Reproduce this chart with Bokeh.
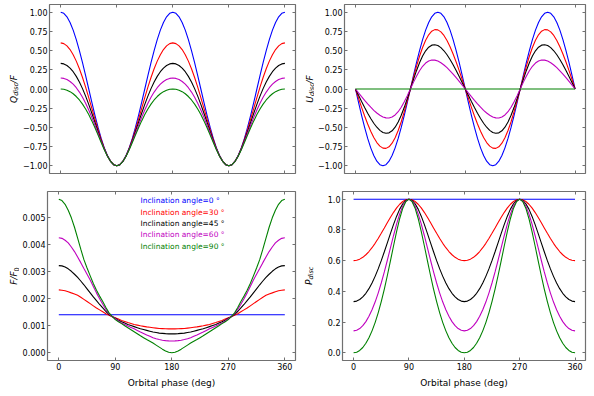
import math
from bokeh.plotting import figure
from bokeh.models import (ColumnDataSource, LinearAxis, FixedTicker,
                          CustomJSTickFormatter, Label, Range1d)
from bokeh.layouts import column, row
from bokeh.embed import file_html
from bokeh.resources import INLINE

# ---------------- data ----------------
phase = [0, 5, 10, 15, 20, 25, 30, 35, 40, 45, 50, 55, 60, 65, 70, 75, 80, 85, 90,
         95, 100, 105, 110, 115, 120, 125, 130, 135, 140, 145, 150, 155, 160, 165, 170, 175, 180,
         185, 190, 195, 200, 205, 210, 215, 220, 225, 230, 235, 240, 245, 250, 255, 260, 265, 270,
         275, 280, 285, 290, 295, 300, 305, 310, 315, 320, 325, 330, 335, 340, 345, 350, 355, 360]

inclinations = ["0", "30", "45", "60", "90"]

q_i0 = [1.0, 0.9848, 0.9397, 0.866, 0.766, 0.6428, 0.5, 0.342, 0.1736, 0.0, -0.1736, -0.342, -0.5, -0.6428, -0.766, -0.866, -0.9397, -0.9848, -1.0,
        -0.9848, -0.9397, -0.866, -0.766, -0.6428, -0.5, -0.342, -0.1736, 0.0, 0.1736, 0.342, 0.5, 0.6428, 0.766, 0.866, 0.9397, 0.9848, 1.0,
        0.9848, 0.9397, 0.866, 0.766, 0.6428, 0.5, 0.342, 0.1736, 0.0, -0.1736, -0.342, -0.5, -0.6428, -0.766, -0.866, -0.9397, -0.9848, -1.0,
        -0.9848, -0.9397, -0.866, -0.766, -0.6428, -0.5, -0.342, -0.1736, 0.0, 0.1736, 0.342, 0.5, 0.6428, 0.766, 0.866, 0.9397, 0.9848, 1.0]
q_i30 = [0.6, 0.5903, 0.5612, 0.5131, 0.4467, 0.3629, 0.2632, 0.1492, 0.0235, -0.1111, -0.251, -0.392, -0.5294, -0.658, -0.7727, -0.8682, -0.9402, -0.9848, -1.0,
         -0.9848, -0.9402, -0.8682, -0.7727, -0.658, -0.5294, -0.392, -0.251, -0.1111, 0.0235, 0.1492, 0.2632, 0.3629, 0.4467, 0.5131, 0.5612, 0.5903, 0.6,
         0.5903, 0.5612, 0.5131, 0.4467, 0.3629, 0.2632, 0.1492, 0.0235, -0.1111, -0.251, -0.392, -0.5294, -0.658, -0.7727, -0.8682, -0.9402, -0.9848, -1.0,
         -0.9848, -0.9402, -0.8682, -0.7727, -0.658, -0.5294, -0.392, -0.251, -0.1111, 0.0235, 0.1492, 0.2632, 0.3629, 0.4467, 0.5131, 0.5612, 0.5903, 0.6]
q_i45 = [0.3333, 0.3266, 0.3063, 0.2724, 0.2251, 0.1645, 0.0909, 0.0049, -0.0926, -0.2, -0.3151, -0.435, -0.5556, -0.6721, -0.779, -0.8704, -0.9406, -0.9849, -1.0,
         -0.9849, -0.9406, -0.8704, -0.779, -0.6721, -0.5556, -0.435, -0.3151, -0.2, -0.0926, 0.0049, 0.0909, 0.1645, 0.2251, 0.2724, 0.3063, 0.3266, 0.3333,
         0.3266, 0.3063, 0.2724, 0.2251, 0.1645, 0.0909, 0.0049, -0.0926, -0.2, -0.3151, -0.435, -0.5556, -0.6721, -0.779, -0.8704, -0.9406, -0.9849, -1.0,
         -0.9849, -0.9406, -0.8704, -0.779, -0.6721, -0.5556, -0.435, -0.3151, -0.2, -0.0926, 0.0049, 0.0909, 0.1645, 0.2251, 0.2724, 0.3063, 0.3266, 0.3333]
q_i60 = [0.1429, 0.1379, 0.1229, 0.0978, 0.0624, 0.0165, -0.04, -0.1073, -0.185, -0.2727, -0.3691, -0.4722, -0.5789, -0.685, -0.7849, -0.8724, -0.941, -0.9849, -1.0,
         -0.9849, -0.941, -0.8724, -0.7849, -0.685, -0.5789, -0.4722, -0.3691, -0.2727, -0.185, -0.1073, -0.04, 0.0165, 0.0624, 0.0978, 0.1229, 0.1379, 0.1429,
         0.1379, 0.1229, 0.0978, 0.0624, 0.0165, -0.04, -0.1073, -0.185, -0.2727, -0.3691, -0.4722, -0.5789, -0.685, -0.7849, -0.8724, -0.941, -0.9849, -1.0,
         -0.9849, -0.941, -0.8724, -0.7849, -0.685, -0.5789, -0.4722, -0.3691, -0.2727, -0.185, -0.1073, -0.04, 0.0165, 0.0624, 0.0978, 0.1229, 0.1379, 0.1429]
q_i90 = [0.0, -0.0038, -0.0153, -0.0347, -0.0621, -0.0981, -0.1429, -0.1969, -0.2604, -0.3333, -0.4152, -0.5049, -0.6, -0.6969, -0.7905, -0.8744, -0.9415, -0.9849, -1.0,
         -0.9849, -0.9415, -0.8744, -0.7905, -0.6969, -0.6, -0.5049, -0.4152, -0.3333, -0.2604, -0.1969, -0.1429, -0.0981, -0.0621, -0.0347, -0.0153, -0.0038, 0.0,
         -0.0038, -0.0153, -0.0347, -0.0621, -0.0981, -0.1429, -0.1969, -0.2604, -0.3333, -0.4152, -0.5049, -0.6, -0.6969, -0.7905, -0.8744, -0.9415, -0.9849, -1.0,
         -0.9849, -0.9415, -0.8744, -0.7905, -0.6969, -0.6, -0.5049, -0.4152, -0.3333, -0.2604, -0.1969, -0.1429, -0.0981, -0.0621, -0.0347, -0.0153, -0.0038, 0.0]

u_i0 = [0.0, -0.1736, -0.342, -0.5, -0.6428, -0.766, -0.866, -0.9397, -0.9848, -1.0, -0.9848, -0.9397, -0.866, -0.766, -0.6428, -0.5, -0.342, -0.1736, 0.0,
        0.1736, 0.342, 0.5, 0.6428, 0.766, 0.866, 0.9397, 0.9848, 1.0, 0.9848, 0.9397, 0.866, 0.766, 0.6428, 0.5, 0.342, 0.1736, 0.0,
        -0.1736, -0.342, -0.5, -0.6428, -0.766, -0.866, -0.9397, -0.9848, -1.0, -0.9848, -0.9397, -0.866, -0.766, -0.6428, -0.5, -0.342, -0.1736, 0.0,
        0.1736, 0.342, 0.5, 0.6428, 0.766, 0.866, 0.9397, 0.9848, 1.0, 0.9848, 0.9397, 0.866, 0.766, 0.6428, 0.5, 0.342, 0.1736, 0.0]
u_i30 = [0.0, -0.1205, -0.2384, -0.3511, -0.456, -0.5504, -0.6316, -0.6969, -0.7438, -0.7698, -0.773, -0.752, -0.7059, -0.6351, -0.5409, -0.4259, -0.294, -0.1501, 0.0,
         0.1501, 0.294, 0.4259, 0.5409, 0.6351, 0.7059, 0.752, 0.773, 0.7698, 0.7438, 0.6969, 0.6316, 0.5504, 0.456, 0.3511, 0.2384, 0.1205, 0.0,
         -0.1205, -0.2384, -0.3511, -0.456, -0.5504, -0.6316, -0.6969, -0.7438, -0.7698, -0.773, -0.752, -0.7059, -0.6351, -0.5409, -0.4259, -0.294, -0.1501, 0.0,
         0.1501, 0.294, 0.4259, 0.5409, 0.6351, 0.7059, 0.752, 0.773, 0.7698, 0.7438, 0.6969, 0.6316, 0.5504, 0.456, 0.3511, 0.2384, 0.1205, 0.0]
u_i45 = [0.0, -0.0821, -0.1629, -0.2411, -0.3153, -0.384, -0.4454, -0.4975, -0.5384, -0.5657, -0.5771, -0.5706, -0.5443, -0.4973, -0.4294, -0.3421, -0.2383, -0.1223, 0.0,
         0.1223, 0.2383, 0.3421, 0.4294, 0.4973, 0.5443, 0.5706, 0.5771, 0.5657, 0.5384, 0.4975, 0.4454, 0.384, 0.3153, 0.2411, 0.1629, 0.0821, 0.0,
         -0.0821, -0.1629, -0.2411, -0.3153, -0.384, -0.4454, -0.4975, -0.5384, -0.5657, -0.5771, -0.5706, -0.5443, -0.4973, -0.4294, -0.3421, -0.2383, -0.1223, 0.0,
         0.1223, 0.2383, 0.3421, 0.4294, 0.4973, 0.5443, 0.5706, 0.5771, 0.5657, 0.5384, 0.4975, 0.4454, 0.384, 0.3153, 0.2411, 0.1629, 0.0821, 0.0]
u_i60 = [0.0, -0.0498, -0.099, -0.1471, -0.1933, -0.237, -0.2771, -0.3126, -0.3419, -0.3636, -0.3759, -0.3769, -0.3646, -0.3378, -0.2955, -0.238, -0.1672, -0.0863, 0.0,
         0.0863, 0.1672, 0.238, 0.2955, 0.3378, 0.3646, 0.3769, 0.3759, 0.3636, 0.3419, 0.3126, 0.2771, 0.237, 0.1933, 0.1471, 0.099, 0.0498, 0.0,
         -0.0498, -0.099, -0.1471, -0.1933, -0.237, -0.2771, -0.3126, -0.3419, -0.3636, -0.3759, -0.3769, -0.3646, -0.3378, -0.2955, -0.238, -0.1672, -0.0863, 0.0,
         0.0863, 0.1672, 0.238, 0.2955, 0.3378, 0.3646, 0.3769, 0.3759, 0.3636, 0.3419, 0.3126, 0.2771, 0.237, 0.1933, 0.1471, 0.099, 0.0498, 0.0]
u_i90 = [0.0] * 73

# F/F0 in units of 1e-3
f_i0_milli = [1.41] * 73
f_i30_milli = [2.33, 2.32, 2.30, 2.265, 2.22, 2.18, 2.13, 2.06, 1.98, 1.90, 1.82, 1.74, 1.66, 1.59, 1.52, 1.45, 1.39, 1.34, 1.30,
               1.25, 1.20, 1.16, 1.12, 1.085, 1.05, 1.025, 1.00, 0.98, 0.96, 0.945, 0.93, 0.915, 0.90, 0.895, 0.89, 0.886, 0.885,
               0.886, 0.89, 0.895, 0.90, 0.915, 0.93, 0.945, 0.96, 0.98, 1.00, 1.025, 1.05, 1.085, 1.12, 1.16, 1.20, 1.25, 1.30,
               1.34, 1.39, 1.45, 1.52, 1.59, 1.66, 1.74, 1.82, 1.90, 1.98, 2.06, 2.13, 2.18, 2.22, 2.265, 2.30, 2.32, 2.33]
f_i45_milli = [3.23, 3.22, 3.18, 3.11, 3.02, 2.91, 2.79, 2.66, 2.52, 2.37, 2.22, 2.07, 1.93, 1.79, 1.66, 1.53, 1.42, 1.34, 1.28,
               1.21, 1.15, 1.10, 1.05, 1.01, 0.97, 0.93, 0.89, 0.86, 0.83, 0.80, 0.77, 0.75, 0.73, 0.72, 0.71, 0.703, 0.70,
               0.703, 0.71, 0.72, 0.73, 0.75, 0.77, 0.80, 0.83, 0.86, 0.89, 0.93, 0.97, 1.01, 1.05, 1.10, 1.15, 1.21, 1.28,
               1.34, 1.42, 1.53, 1.66, 1.79, 1.93, 2.07, 2.22, 2.37, 2.52, 2.66, 2.79, 2.91, 3.02, 3.11, 3.18, 3.22, 3.23]
f_i60_milli = [4.26, 4.24, 4.17, 4.07, 3.92, 3.75, 3.55, 3.34, 3.12, 2.91, 2.70, 2.46, 2.22, 2.00, 1.80, 1.61, 1.45, 1.345, 1.26,
               1.18, 1.10, 1.045, 0.99, 0.94, 0.89, 0.83, 0.77, 0.715, 0.66, 0.61, 0.56, 0.52, 0.49, 0.465, 0.45, 0.443, 0.44,
               0.443, 0.45, 0.465, 0.49, 0.52, 0.56, 0.61, 0.66, 0.715, 0.77, 0.83, 0.89, 0.94, 0.99, 1.045, 1.10, 1.18, 1.26,
               1.345, 1.45, 1.61, 1.80, 2.00, 2.22, 2.46, 2.70, 2.91, 3.12, 3.34, 3.55, 3.75, 3.92, 4.07, 4.17, 4.24, 4.26]
f_i90_milli = [5.69, 5.64, 5.50, 5.28, 5.00, 4.65, 4.25, 3.84, 3.45, 3.14, 2.85, 2.57, 2.32, 2.10, 1.90, 1.68, 1.48, 1.35, 1.23,
               1.15, 1.08, 1.00, 0.93, 0.855, 0.78, 0.705, 0.63, 0.56, 0.49, 0.425, 0.36, 0.285, 0.21, 0.135, 0.07, 0.02, 0.0,
               0.02, 0.07, 0.135, 0.21, 0.285, 0.36, 0.425, 0.49, 0.56, 0.63, 0.705, 0.78, 0.855, 0.93, 1.00, 1.08, 1.15, 1.23,
               1.35, 1.48, 1.68, 1.90, 2.10, 2.32, 2.57, 2.85, 3.14, 3.45, 3.84, 4.25, 4.65, 5.00, 5.28, 5.50, 5.64, 5.69]

p_i0 = [1.0] * 73
p_i30 = [0.6, 0.6024, 0.6097, 0.6217, 0.6383, 0.6593, 0.6842, 0.7127, 0.7441, 0.7778, 0.8127, 0.848, 0.8824, 0.9145, 0.9432, 0.9671, 0.985, 0.9962, 1.0,
         0.9962, 0.985, 0.9671, 0.9432, 0.9145, 0.8824, 0.848, 0.8127, 0.7778, 0.7441, 0.7127, 0.6842, 0.6593, 0.6383, 0.6217, 0.6097, 0.6024, 0.6,
         0.6024, 0.6097, 0.6217, 0.6383, 0.6593, 0.6842, 0.7127, 0.7441, 0.7778, 0.8127, 0.848, 0.8824, 0.9145, 0.9432, 0.9671, 0.985, 0.9962, 1.0,
         0.9962, 0.985, 0.9671, 0.9432, 0.9145, 0.8824, 0.848, 0.8127, 0.7778, 0.7441, 0.7127, 0.6842, 0.6593, 0.6383, 0.6217, 0.6097, 0.6024, 0.6]
p_i45 = [0.3333, 0.3367, 0.3469, 0.3638, 0.3874, 0.4177, 0.4545, 0.4976, 0.5463, 0.6, 0.6576, 0.7175, 0.7778, 0.836, 0.8895, 0.9352, 0.9703, 0.9924, 1.0,
         0.9924, 0.9703, 0.9352, 0.8895, 0.836, 0.7778, 0.7175, 0.6576, 0.6, 0.5463, 0.4976, 0.4545, 0.4177, 0.3874, 0.3638, 0.3469, 0.3367, 0.3333,
         0.3367, 0.3469, 0.3638, 0.3874, 0.4177, 0.4545, 0.4976, 0.5463, 0.6, 0.6576, 0.7175, 0.7778, 0.836, 0.8895, 0.9352, 0.9703, 0.9924, 1.0,
         0.9924, 0.9703, 0.9352, 0.8895, 0.836, 0.7778, 0.7175, 0.6576, 0.6, 0.5463, 0.4976, 0.4545, 0.4177, 0.3874, 0.3638, 0.3469, 0.3367, 0.3333]
p_i60 = [0.1429, 0.1466, 0.1578, 0.1766, 0.2032, 0.2376, 0.28, 0.3304, 0.3888, 0.4545, 0.5268, 0.6042, 0.6842, 0.7637, 0.8387, 0.9043, 0.9558, 0.9887, 1.0,
         0.9887, 0.9558, 0.9043, 0.8387, 0.7637, 0.6842, 0.6042, 0.5268, 0.4545, 0.3888, 0.3304, 0.28, 0.2376, 0.2032, 0.1766, 0.1578, 0.1466, 0.1429,
         0.1466, 0.1578, 0.1766, 0.2032, 0.2376, 0.28, 0.3304, 0.3888, 0.4545, 0.5268, 0.6042, 0.6842, 0.7637, 0.8387, 0.9043, 0.9558, 0.9887, 1.0,
         0.9887, 0.9558, 0.9043, 0.8387, 0.7637, 0.6842, 0.6042, 0.5268, 0.4545, 0.3888, 0.3304, 0.28, 0.2376, 0.2032, 0.1766, 0.1578, 0.1466, 0.1429]
p_i90 = [0.0, 0.0038, 0.0153, 0.0347, 0.0621, 0.0981, 0.1429, 0.1969, 0.2604, 0.3333, 0.4152, 0.5049, 0.6, 0.6969, 0.7905, 0.8744, 0.9415, 0.9849, 1.0,
         0.9849, 0.9415, 0.8744, 0.7905, 0.6969, 0.6, 0.5049, 0.4152, 0.3333, 0.2604, 0.1969, 0.1429, 0.0981, 0.0621, 0.0347, 0.0153, 0.0038, 0.0,
         0.0038, 0.0153, 0.0347, 0.0621, 0.0981, 0.1429, 0.1969, 0.2604, 0.3333, 0.4152, 0.5049, 0.6, 0.6969, 0.7905, 0.8744, 0.9415, 0.9849, 1.0,
         0.9849, 0.9415, 0.8744, 0.7905, 0.6969, 0.6, 0.5049, 0.4152, 0.3333, 0.2604, 0.1969, 0.1429, 0.0981, 0.0621, 0.0347, 0.0153, 0.0038, 0.0]

x_ticks = [0, 90, 180, 270, 360]
q_ticks = [-1.0, -0.75, -0.5, -0.25, 0.0, 0.25, 0.5, 0.75, 1.0]
f_ticks = [0.0, 0.001, 0.002, 0.003, 0.004, 0.005]
p_ticks = [0.0, 0.2, 0.4, 0.6, 0.8, 1.0]
legend_labels = ["Inclination angle=0 \u00b0", "Inclination angle=30 \u00b0",
                 "Inclination angle=45 \u00b0", "Inclination angle=60 \u00b0",
                 "Inclination angle=90 \u00b0"]

# ---------------- styling ----------------
COLORS = ["#0000ff", "#ff0000", "#000000", "#bf00bf", "#008000"]
FRAME = "#707070"
FONT = "DejaVu Sans"
XR = (-18.0, 377.0)

series = {
    "q": [q_i0, q_i30, q_i45, q_i60, q_i90],
    "u": [u_i0, u_i30, u_i45, u_i60, u_i90],
    "f": [f_i0_milli, f_i30_milli, f_i45_milli, f_i60_milli, f_i90_milli],
    "p": [p_i0, p_i30, p_i45, p_i60, p_i90],
}
data = dict(phase=phase)
for key, lists in series.items():
    for inc, vals in zip(inclinations, lists):
        if key == "f":
            vals = [v * 1e-3 for v in vals]
        data[f"{key}_i{inc}"] = vals
src = ColumnDataSource(data)


def fmt(decimals):
    return CustomJSTickFormatter(code=(
        "var s = Math.abs(tick).toFixed(%d);"
        "return (tick < -1e-12 ? '\u2212' : '') + s;" % decimals))


def style_axis(ax, ticks, formatter, show):
    ax.ticker = FixedTicker(ticks=ticks)
    ax.axis_line_color = None
    ax.major_tick_in = 3
    ax.major_tick_out = 0
    ax.minor_tick_in = 0
    ax.minor_tick_out = 0
    ax.major_tick_line_color = FRAME
    ax.major_tick_line_width = 1
    ax.major_label_text_font = FONT
    ax.major_label_text_color = "black"
    if show:
        ax.formatter = formatter
        ax.major_label_text_font_size = "8px"
        ax.major_label_standoff = 2
    else:
        ax.formatter = CustomJSTickFormatter(code="return '';")
        ax.major_label_text_font_size = "0px"
        ax.major_label_standoff = 0


def make_fig(width, height, borders, yrange, yticks, yfmt, show_x):
    left, right, top, bottom = borders
    p = figure(width=width, height=height, x_range=Range1d(*XR),
               y_range=Range1d(*yrange), output_backend="svg",
               toolbar_location=None, min_border=0, title=None)
    p.min_border_left = left
    p.min_border_right = right
    p.min_border_top = top
    p.min_border_bottom = bottom
    p.background_fill_color = "white"
    p.border_fill_color = "white"
    p.outline_line_color = FRAME
    p.outline_line_width = 1.2
    p.xgrid.visible = False
    p.ygrid.visible = False
    style_axis(p.xaxis[0], x_ticks, fmt(0), show_x)
    style_axis(p.yaxis[0], yticks, yfmt, True)
    if show_x:
        ax = p.xaxis[0]
        ax.axis_label = "Orbital phase (deg)"
        ax.axis_label_text_font = FONT
        ax.axis_label_text_font_style = "normal"
        ax.axis_label_text_font_size = "9px"
        ax.axis_label_text_color = "black"
        ax.axis_label_standoff = 5
        ax.major_label_standoff = 2
    top_ax = LinearAxis()
    style_axis(top_ax, x_ticks, None, False)
    p.add_layout(top_ax, "above")
    right_ax = LinearAxis()
    style_axis(right_ax, yticks, None, False)
    p.add_layout(right_ax, "right")
    return p


def add_lines(p, prefix):
    for inc, col in zip(inclinations, COLORS):
        p.line(x="phase", y=f"{prefix}_i{inc}", source=src, line_color=col,
               line_width=1.1)


FH = 169


def label_fig(width, height, top, bottom, parts, base_x):
    """Narrow blank figure holding a vertical axis title made of pieces
    (so that the subscript can be drawn); coordinates are pixels."""
    lf = figure(width=width, height=height, x_range=Range1d(0, width),
                y_range=Range1d(0, FH), x_axis_type=None, y_axis_type=None,
                output_backend="svg", toolbar_location=None, min_border=0,
                title=None)
    lf.min_border_top = top
    lf.min_border_bottom = bottom
    lf.outline_line_color = None
    lf.background_fill_color = "white"
    lf.border_fill_color = "white"
    total = sum(part[4] for part in parts)
    y = FH / 2.0 - total / 2.0
    for text, size, style, dx, w in parts:
        lf.add_layout(Label(x=base_x + dx, y=y, text=text, angle=math.pi / 2,
                            text_font=FONT, text_font_size=f"{size}px",
                            text_font_style=style, text_align="left",
                            text_baseline="alphabetic", text_color="black"))
        y += w
    return lf


H_T, H_B = 182, 212
LAB_L, LAB_R = 19, 14
W_L, W_R = 281, 280
LEFT_TOP = (28, 5, 4, 9)
RIGHT_TOP = (28, 9, 4, 9)
LEFT_BOT = (28, 5, 9, 34)
RIGHT_BOT = (28, 9, 9, 34)

QR = (-1.1, 1.1)
FR = (-0.000285, 0.005975)
PR = (-0.05, 1.05)

p_q = make_fig(W_L, H_T, LEFT_TOP, QR, q_ticks, fmt(2), False)
add_lines(p_q, "q")
l_q = label_fig(LAB_L, H_T, 4, 9, [("Q", 9, "italic", 0, 7.1), ("disc", 6.5, "italic", 2.0, 12.6),
                                   ("/F", 9, "italic", 0, 8.2)], 13.5)

p_u = make_fig(W_R, H_T, RIGHT_TOP, QR, q_ticks, fmt(2), False)
add_lines(p_u, "u")
l_u = label_fig(LAB_R, H_T, 4, 9, [("U", 9, "italic", 0, 6.6), ("disc", 6.5, "italic", 2.0, 12.6),
                                   ("/F", 9, "italic", 0, 8.2)], 9)

p_f = make_fig(W_L, H_B, LEFT_BOT, FR, f_ticks, fmt(3), True)
add_lines(p_f, "f")
l_f = label_fig(LAB_L, H_B, 9, 34, [("F/F", 9, "italic", 0, 13.4), ("0", 6.5, "normal", 2.0, 4.2)], 13.5)

p_p = make_fig(W_R, H_B, RIGHT_BOT, PR, p_ticks, fmt(1), True)
add_lines(p_p, "p")
l_p = label_fig(LAB_R, H_B, 9, 34, [("P", 9, "italic", 0, 5.5), ("disc", 6.5, "italic", 2.0, 12.6)], 8.5)

# legend (coloured texts) in the F panel
legend_y = [0.00563, 0.00521, 0.00479, 0.00437, 0.00395]
for text, col, ly in zip(legend_labels, COLORS, legend_y):
    p_f.add_layout(Label(x=130, y=ly, text=text,
                         text_color=col, text_font=FONT, text_font_size="7.5px",
                         text_baseline="middle", text_align="left"))

layout = column(row(l_q, p_q, l_u, p_u), row(l_f, p_f, l_p, p_p))

with open("out.html", "w") as fh:
    fh.write(file_html(layout, INLINE))
